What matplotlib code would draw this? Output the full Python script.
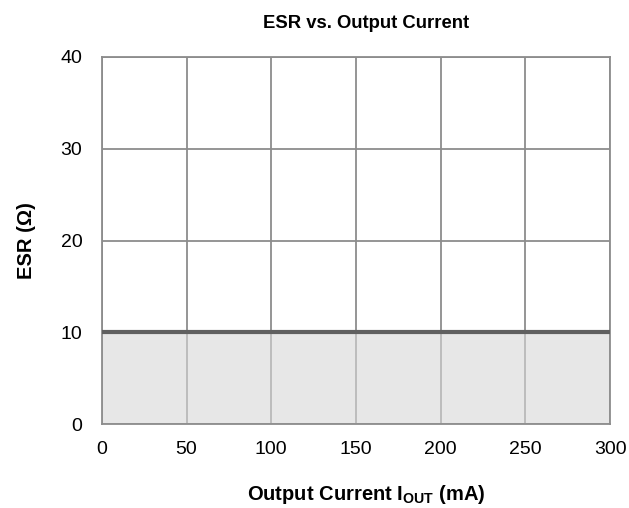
import matplotlib
matplotlib.use('Agg')
import matplotlib.pyplot as plt

plt.rcParams['font.family'] = ['Liberation Sans', 'DejaVu Sans']
plt.rcParams['mathtext.fontset'] = 'custom'
plt.rcParams['mathtext.rm'] = 'Liberation Sans'
plt.rcParams['mathtext.bf'] = 'Liberation Sans:bold'

# data
current_ma = [0, 300]
esr_min = [10, 10]
x_ticks = [0, 50, 100, 150, 200, 250, 300]
y_ticks = [0, 10, 20, 30, 40]

fig = plt.figure(figsize=(6.29, 5.08), dpi=100)
ax = fig.add_axes([0.162, 0.165, 0.808, 0.723])

ax.set_xlim(0, 300)
ax.set_ylim(0, 40)
ax.set_xticks(x_ticks)
ax.set_yticks(y_ticks)
ax.grid(True, color='#8c8c8c', lw=1.3, zorder=1)
ax.set_axisbelow(True)

# shaded stable region sits over the grid, so the grid shows lighter there
ax.fill_between(current_ma, 0, esr_min, color='#d8d8d8', alpha=0.6, lw=0, zorder=2)
ax.plot(current_ma, esr_min, color='#606060', lw=3, zorder=3, solid_capstyle='butt')

for s in ax.spines.values():
    s.set_color('#8c8c8c')
    s.set_linewidth(1.3)
ax.tick_params(length=0, labelsize=14, pad=12)
ax.tick_params(axis='y', pad=14)

ax.set_title('ESR vs. Output Current', fontsize=13.3, fontweight='bold', pad=21, x=0.52)
ax.set_xlabel(r'Output Current $\mathbf{I_{OUT}}$ (mA)', fontsize=14.5, fontweight='bold', labelpad=18)
ax.xaxis.label.set_x(0.52)
ax.set_ylabel('ESR (Ω)', fontsize=14.5, fontweight='bold', labelpad=18)

fig.savefig('out.png', dpi=100)
